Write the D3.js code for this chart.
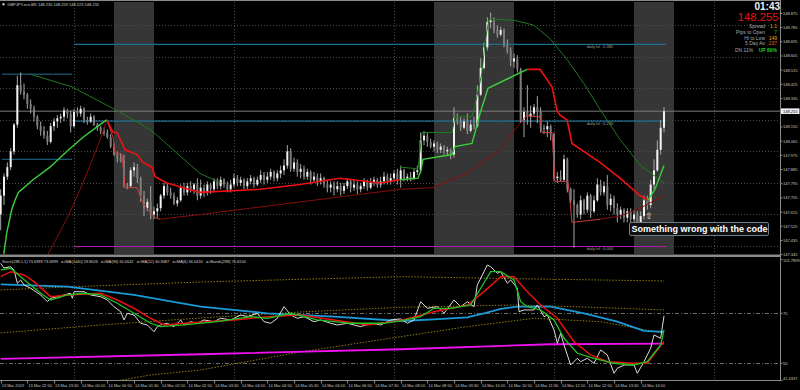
<!DOCTYPE html>
<html>
<head>
<meta charset="utf-8">
<script src="https://cdn.jsdelivr.net/npm/d3@7"></script>
<style>
  body { margin: 0; background: #000; }
  svg { display: block; font-family: "Liberation Sans", Arial, sans-serif; }
</style>
</head>
<body>
<div id="chart"></div>
<script>
// ---- candles (GBPJPY M5, 13 Mar 22:10 .. 14 Mar 14:45) ----
var opens = [
  147.60,147.72,147.84,147.90,148.00,148.17,148.42,148.38,148.36,148.30,
  148.27,148.22,148.16,148.13,148.10,148.06,148.16,148.19,148.21,148.22,
  148.26,148.24,148.16,148.25,148.24,148.27,148.20,148.19,148.22,148.17,
  148.15,148.13,148.12,148.09,148.03,147.98,147.96,147.94,147.79,147.78,
  147.88,147.90,147.83,147.72,147.64,147.68,147.60,147.62,147.64,147.72,
  147.78,147.74,147.72,147.67,147.69,147.77,147.74,147.78,147.76,147.79,
  147.72,147.77,147.74,147.79,147.76,147.81,147.78,147.82,147.79,147.76,
  147.79,147.83,147.80,147.82,147.78,147.81,147.83,147.79,147.82,147.85,
  147.82,147.84,147.87,147.83,147.86,147.88,147.91,148.00,147.89,147.93,
  147.87,147.89,147.84,147.87,147.82,147.84,147.81,147.83,147.79,147.77,
  147.79,147.76,147.78,147.75,147.78,147.81,147.77,147.79,147.76,147.78,
  147.81,147.77,147.80,147.82,147.79,147.81,147.84,147.81,147.83,147.86,
  147.82,147.88,147.83,147.84,147.83,147.87,147.88,148.07,148.10,148.06,
  148.03,148.05,148.01,148.03,148.00,148.01,147.98,148.21,148.19,148.15,
  148.19,148.13,148.17,148.16,148.36,148.53,148.66,148.82,148.83,148.77,
  148.74,148.77,148.68,148.64,148.57,148.59,148.52,148.20,148.25,148.22,
  148.24,148.28,148.25,148.15,148.14,148.16,148.11,147.83,147.84,147.82,
  147.95,147.76,147.69,147.66,147.60,147.69,147.63,147.72,147.62,147.69,
  147.79,147.74,147.78,147.66,147.70,147.64,147.60,147.63,147.58,147.62,
  147.57,147.60,147.55,147.59,147.69,147.66,147.79,147.88,148.01,148.15
];
var highs = [
  147.76,147.86,147.93,148.02,148.18,148.48,148.50,148.43,148.37,148.33,
  148.29,148.23,148.19,148.16,148.13,148.18,148.21,148.23,148.24,148.28,
  148.27,148.26,148.27,148.28,148.29,148.28,148.22,148.24,148.23,148.18,
  148.16,148.15,148.14,148.11,148.05,148.00,147.99,147.98,147.80,147.90,
  147.93,147.92,147.84,147.75,147.70,147.78,147.65,147.67,147.73,147.80,
  147.80,147.77,147.74,147.71,147.79,147.80,147.80,147.81,147.80,147.83,
  147.82,147.79,147.81,147.80,147.83,147.83,147.84,147.83,147.81,147.82,
  147.86,147.85,147.84,147.83,147.83,147.85,147.84,147.84,147.88,147.87,
  147.87,147.89,147.88,147.88,147.91,147.95,148.04,148.02,147.96,147.95,
  147.92,147.91,147.89,147.88,147.87,147.86,147.86,147.84,147.82,147.81,
  147.81,147.81,147.80,147.80,147.83,147.82,147.82,147.81,147.80,147.83,
  147.82,147.83,147.84,147.83,147.84,147.87,147.86,147.86,147.88,147.89,
  147.91,147.89,147.86,147.87,147.89,147.91,148.12,148.13,148.12,148.08,
  148.07,148.06,148.05,148.04,148.03,148.02,148.28,148.24,148.22,148.21,
  148.24,148.20,148.22,148.42,148.59,148.69,148.85,148.88,148.85,148.80,
  148.79,148.78,148.71,148.66,148.62,148.61,148.53,148.28,148.42,148.29,
  148.30,148.35,148.28,148.17,148.19,148.17,148.12,147.87,147.88,147.98,
  147.96,147.77,147.76,147.67,147.72,147.70,147.74,147.73,147.72,147.83,
  147.82,147.81,147.85,147.73,147.72,147.67,147.65,147.64,147.64,147.64,
  147.63,147.62,147.62,147.72,147.72,147.82,147.95,148.07,148.20,148.28
];
var lows = [
  147.50,147.66,147.82,147.88,147.98,148.15,148.36,148.33,148.27,148.24,
  148.19,148.14,148.10,148.08,148.04,148.05,148.13,148.15,148.18,148.19,
  148.21,148.12,148.15,148.22,148.22,148.18,148.17,148.18,148.16,148.13,
  148.11,148.10,148.08,148.02,147.97,147.93,147.93,147.77,147.76,147.77,
  147.84,147.80,147.68,147.59,147.62,147.57,147.57,147.58,147.62,147.70,
  147.72,147.70,147.66,147.65,147.68,147.72,147.72,147.74,147.73,147.69,
  147.70,147.71,147.72,147.73,147.74,147.76,147.76,147.77,147.74,147.74,
  147.77,147.78,147.78,147.76,147.76,147.79,147.77,147.78,147.80,147.79,
  147.80,147.82,147.81,147.81,147.83,147.85,147.89,147.87,147.87,147.84,
  147.83,147.82,147.82,147.79,147.80,147.78,147.79,147.77,147.74,147.74,
  147.72,147.74,147.72,147.73,147.76,147.74,147.75,147.73,147.74,147.76,
  147.75,147.76,147.78,147.77,147.77,147.79,147.79,147.79,147.81,147.79,
  147.77,147.81,147.81,147.81,147.82,147.85,147.86,148.04,148.03,148.02,
  148.00,147.99,147.99,147.98,147.97,147.95,147.96,148.17,148.13,148.14,
  148.11,148.12,148.14,148.15,148.35,148.52,148.64,148.78,148.75,148.72,
  148.73,148.66,148.62,148.54,148.53,148.50,148.18,148.09,148.17,148.15,
  148.22,148.18,148.12,148.11,148.09,148.07,147.81,147.80,147.81,147.81,
  147.74,147.67,147.39,147.58,147.57,147.60,147.61,147.58,147.61,147.68,
  147.72,147.72,147.63,147.62,147.60,147.55,147.57,147.55,147.55,147.53,
  147.53,147.50,147.49,147.57,147.63,147.64,147.76,147.87,147.98,148.12
];
var closes = [
  147.72,147.84,147.90,148.00,148.17,148.42,148.38,148.36,148.30,148.27,
  148.22,148.16,148.13,148.10,148.06,148.16,148.19,148.21,148.22,148.26,
  148.24,148.16,148.25,148.24,148.27,148.20,148.19,148.22,148.17,148.15,
  148.13,148.12,148.09,148.03,147.98,147.96,147.94,147.79,147.78,147.88,
  147.90,147.83,147.72,147.64,147.68,147.60,147.62,147.64,147.72,147.78,
  147.74,147.72,147.67,147.69,147.77,147.74,147.78,147.76,147.79,147.72,
  147.77,147.74,147.79,147.76,147.81,147.78,147.82,147.79,147.76,147.79,
  147.83,147.80,147.82,147.78,147.81,147.83,147.79,147.82,147.85,147.82,
  147.84,147.87,147.83,147.86,147.88,147.91,148.00,147.89,147.93,147.87,
  147.89,147.84,147.87,147.82,147.84,147.81,147.83,147.79,147.77,147.79,
  147.76,147.78,147.75,147.78,147.81,147.77,147.79,147.76,147.78,147.81,
  147.77,147.80,147.82,147.79,147.81,147.84,147.81,147.83,147.86,147.82,
  147.88,147.83,147.84,147.83,147.87,147.88,148.07,148.10,148.06,148.03,
  148.05,148.01,148.03,148.00,148.01,147.98,148.21,148.19,148.15,148.19,
  148.13,148.17,148.16,148.36,148.53,148.66,148.82,148.83,148.77,148.74,
  148.77,148.68,148.64,148.57,148.59,148.52,148.20,148.25,148.22,148.24,
  148.28,148.25,148.15,148.14,148.16,148.11,147.83,147.84,147.82,147.95,
  147.76,147.69,147.66,147.60,147.69,147.63,147.72,147.62,147.69,147.79,
  147.74,147.78,147.66,147.70,147.64,147.60,147.63,147.58,147.62,147.57,
  147.60,147.55,147.59,147.69,147.66,147.79,147.88,148.01,148.15,148.255
];

// ---- price-pane indicator lines: [bar, price] ----
var greenStop = [
  [[0.8,147.33],[1.8,147.48],[3.3,147.63],[4.3,147.69],[5.3,147.74],[9.7,147.82],[14.8,147.90],[19.8,148.00],[24.7,148.09],[29.8,148.17],[31.8,148.20]],
  [[119.8,147.82],[125.2,147.83],[126.1,147.88],[126.7,147.95],[135.4,147.98],[136.3,148.03],[141.4,148.05],[142.3,148.12],[143.8,148.24],[146.2,148.40],[157.9,148.52]],
  [[194.2,147.69],[196.3,147.76],[199,147.91]]
];
var redStop = [
  [[31.8,148.20],[33.7,148.12],[34.9,148.12],[36.4,148.05],[37.3,148.01],[40.9,147.98],[42.7,147.93],[45.4,147.90],[46.3,147.84],[49.9,147.80],[59.8,147.74],[77.8,147.76],[89.8,147.79],[101.8,147.83],[113.8,147.80],[119.8,147.82]],
  [[157.9,148.52],[161.8,148.52],[165.4,148.41],[166.9,148.26],[167.8,148.23],[169.9,148.20],[171.4,148.05],[179.8,147.93],[185.8,147.83],[191.8,147.72],[194.2,147.69]]
];
var maroonLine = [
  [[13.8,147.33],[19.8,147.57],[24.7,147.80],[29.8,148.07],[31.8,148.20]],
  [[47.8,147.57],[60,147.60],[75,147.64],[90,147.68],[105,147.72],[120,147.76],[129.7,147.77],[139.9,147.86],[149.8,148.01],[155.8,148.18]],
  [[179.8,147.57],[185.8,147.59],[191.8,147.64],[199,147.72]]
];
var redHug = [
  [[31.8,148.20],[33.7,148.09],[34.3,147.99],[36.4,147.98],[37.3,147.77],[40.9,147.77],[42.7,147.67],[46.3,147.58],[47.8,147.57]],
  [[155.8,148.18],[157.9,148.23],[159.7,148.22],[161.8,148.22],[162.4,148.12],[165.4,148.12],[166.3,147.81],[170.2,147.81],[171.4,147.55],[179.8,147.57]]
];
var darkGreen = [
  [[8.8,148.49],[21.3,148.41],[34.8,148.26],[44.8,148.14],[59.8,147.86],[66,147.80]],
  [[119.8,147.90],[125.2,147.89],[126.4,148.12],[135.4,148.12],[136.3,148.22],[141.4,148.22],[142.9,148.35],[144.4,148.50],[145.3,148.69],[146.5,148.84],[154.3,148.83],[160,148.80],[165,148.71],[170,148.58],[175,148.43],[180,148.26],[186,148.07],[192,147.91],[199,147.80]]
];

// ---- levels / sessions ----
var dailyLevels = [148.678, 148.192, 147.397];
var dailyLevelNames = ["daily lvl : 0.382", "daily lvl : 0.236", "daily lvl : 0.000"];
var prevLevels = [148.49, 147.95];
var bidPrice = 148.255;
var sessions = [[34, 46], [130, 154], [190, 202]];

// ---- oscillator pane: [bar, value] ----
var stochLine = [[0,100.0],[1,97.65],[3,98.3],[4,96.65],[5,90],[6,91.65],[7,89.15],[9,87.5],[12,84.15],[14,80.8],[15,82.5],[17,83.3],[19,84.15],[21,85],[21.5,82.5],[22,85.8],[25,85.8],[27,84.15],[30,83.3],[32,81.65],[34,78.3],[36,75.8],[37,71.65],[38,75],[40,74.15],[42,70],[44,69.15],[46,65.8],[47,68.3],[48,69.15],[50,70],[52,68.3],[54,71.65],[55,69.15],[57,70.8],[59,70],[61,71.65],[64,70.8],[66,72.5],[69,71.65],[72,74.15],[74,73.3],[77,75],[79,70.8],[81,70],[83,72.5],[85,78.3],[87,74.15],[89,72.5],[91,73.3],[94,70.8],[96,71.65],[99,70],[101,69.15],[104,70],[108,68.3],[111,70],[114,69.15],[117,71.65],[120,72.2],[122,70],[124,71.65],[126,80.8],[128,77.5],[131,78.3],[133,75],[136,81.65],[138,78.3],[140,80.8],[142,78.3],[143,89.15],[146,99.15],[147,98.3],[149,95],[150,95.8],[152,90],[153,91.65],[155,87.5],[155.5,75.8],[157,76.65],[160,76.65],[161,79.15],[163,73.3],[164,74.15],[166,66.65],[167,60],[168,65],[169,59.15],[171,49.15],[173,52.5],[174,50.8],[176,52.5],[178,50],[180,56.65],[182,54.15],[184,45],[185,47.5],[187,49.15],[190,49.15],[191,45],[193,50.8],[195,57.5],[196,64.15],[198,62.5],[199,73.7]];
var ma6 = [[0,96.65],[3,97.5],[6,93.3],[9,89.15],[12,85],[15,81.65],[20,84.15],[25,85],[30,84.15],[35,80],[40,75],[45,70],[48,68.3],[55,69.15],[65,70.8],[75,73.3],[80,72.5],[87,75],[95,71.65],[105,70],[115,70],[120,71.15],[126,73.3],[130,77.5],[135,77.5],[141,79.15],[144,87.5],[147,95.8],[150,95.8],[154,91.65],[156,80.8],[158,78.3],[162,76.65],[166,71.65],[169,62.5],[173,55],[178,52.5],[184,50],[190,49.15],[194,50.8],[198,59.15],[199,66.64]];
var ma12 = [[0,93.3],[3,95.8],[7,94.15],[10,90.8],[15,83.3],[20,84.15],[30,85],[35,81.65],[40,77.5],[45,72.5],[49,69.15],[55,70],[70,71.65],[80,73.3],[90,74.15],[100,71.65],[110,69.15],[120,71.4],[130,75.8],[140,79.15],[145,85.8],[150,93.3],[154,93.3],[158,85.8],[162,79.15],[167,72.5],[172,60.8],[177,54.15],[182,50.8],[190,50],[194,50],[199,60.95]];
var ma96 = [[0,89.5],[20,88.3],[40,84.15],[60,78.3],[80,75],[100,73.3],[120,71.15],[130,72],[140,73],[145,75],[150,77.15],[155,78.3],[165,78.3],[175,75],[185,70.8],[193,66.15],[199,65.66]];
var ma1440 = [[0,52.15],[60,54.5],[120,57],[165,59.5],[199,59.8]];
var bandUpper = [[0,86.65],[20,88.15],[60,90.65],[120,93.3],[160,92.15],[199,91.15]];
var bandMid = [[0,65.15],[30,69.15],[60,72.65],[90,75.65],[120,78],[155,79.15],[175,78.15],[199,76.66]];
var bandLower = [[33,40.65],[45,44.15],[60,46.65],[90,55.65],[120,63.3],[140,68.3],[160,72.5],[180,70.8],[199,65]];

// ---- axes text ----
var priceTicks = [148.875,148.785,148.695,148.605,148.515,148.425,148.335,148.155,148.065,147.975,147.885,147.795,147.705,147.615,147.525,147.435,147.345];
var priceGrid = [148.8,148.6,148.4,148.2,148.0,147.8,147.6,147.4];
var oscTicks = [101.7899, 75, 50, 41.4337];
var oscTickText = ["101.7899", "75", "50", "41.4337"];
var oscGrid = [75, 50];
var gridBars = [22, 70, 118, 166, 214];
var timeBars = [0,8,16,24,32,40,48,56,64,72,80,88,96,104,112,120,128,136,144,152,160,168,176,184,192];
var timeLabels = ["13 Mar 2019","13 Mar 22:50","13 Mar 23:30","14 Mar 00:10","14 Mar 00:50","14 Mar 01:30","14 Mar 02:10","14 Mar 02:50","14 Mar 03:30","14 Mar 04:10","14 Mar 04:50","14 Mar 05:30","14 Mar 06:10","14 Mar 06:50","14 Mar 07:30","14 Mar 08:10","14 Mar 08:50","14 Mar 09:30","14 Mar 10:10","14 Mar 10:50","14 Mar 11:30","14 Mar 12:10","14 Mar 12:50","14 Mar 13:30","14 Mar 14:10"];

var infoLabels = ["Spread", "Pips to Open", "Hi to Low", "5 Day Av"];
var infoValues = ["1.1", "7", "149", "237"];
var infoColors = ["#e89a10", "#20c020", "#f0a020", "#e86010"];

var drawChart = function() {
  var W = 800, H = 390, axisX = 780;
  var mainTop = 2, mainBot = 254, subTop = 258, subBot = 380;

  var svg = d3.select("#chart").append("svg")
    .attr("width", W).attr("height", H)
    .style("background", "#000");

  var x = d3.scaleLinear().domain([0, 234]).range([0.67, 780.67]);
  var y = d3.scaleLinear().domain([147.345, 148.875]).range([254.7, 13.4]);
  var yo = d3.scaleLinear().domain([41.4337, 101.7899]).range([380.4, 259.7]);

  var defs = svg.append("defs");
  defs.append("clipPath").attr("id", "clipMain").append("rect")
    .attr("x", 0).attr("y", mainTop).attr("width", axisX).attr("height", mainBot - mainTop);
  defs.append("clipPath").attr("id", "clipSub").append("rect")
    .attr("x", 0).attr("y", subTop).attr("width", axisX).attr("height", subBot - subTop);

  var main = svg.append("g").attr("clip-path", "url(#clipMain)");
  var sub = svg.append("g").attr("clip-path", "url(#clipSub)");

  // session boxes
  main.selectAll("rect.session").data(sessions).enter().append("rect")
    .attr("x", function(d){ return x(d[0]); })
    .attr("width", function(d){ return x(d[1]) - x(d[0]); })
    .attr("y", mainTop).attr("height", mainBot - mainTop)
    .attr("fill", "#363636");

  // grid
  main.selectAll("line.hg").data(priceGrid).enter().append("line")
    .attr("x1", 0).attr("x2", axisX)
    .attr("y1", function(d){ return Math.round(y(d)) + 0.5; })
    .attr("y2", function(d){ return Math.round(y(d)) + 0.5; })
    .attr("stroke", "#4a4a4a").attr("stroke-dasharray", "1,2");
  [main, sub].forEach(function(g, k) {
    g.selectAll("line.vg").data(gridBars).enter().append("line")
      .attr("x1", function(d){ return Math.round(x(d)) + 0.5; })
      .attr("x2", function(d){ return Math.round(x(d)) + 0.5; })
      .attr("y1", k ? subTop : mainTop).attr("y2", k ? subBot : mainBot)
      .attr("stroke", "#4a4a4a").attr("stroke-dasharray", "1,2");
  });
  sub.selectAll("line.og").data(oscGrid).enter().append("line")
    .attr("x1", 0).attr("x2", axisX)
    .attr("y1", function(d){ return Math.round(yo(d)) + 0.5; })
    .attr("y2", function(d){ return Math.round(yo(d)) + 0.5; })
    .attr("stroke", "#6a6a6a").attr("stroke-dasharray", "4,2,1,2");

  // daily levels
  main.selectAll("line.prev").data(prevLevels).enter().append("line")
    .attr("x1", x(0.4)).attr("x2", x(21.4))
    .attr("y1", function(d){ return y(d); }).attr("y2", function(d){ return y(d); })
    .attr("stroke", "#1f6f93").attr("stroke-width", 1);
  main.selectAll("line.lvl").data(dailyLevels).enter().append("line")
    .attr("x1", x(22)).attr("x2", x(199.6))
    .attr("y1", function(d){ return y(d); }).attr("y2", function(d){ return y(d); })
    .attr("stroke", function(d, i){ return i === 2 ? "#b01cb0" : "#1f6f93"; })
    .attr("stroke-width", 1.2);
  main.selectAll("text.lvl").data(dailyLevels).enter().append("text")
    .attr("x", x(175.8)).attr("y", function(d){ return y(d) + 4; })
    .attr("fill", "#a0a0a0").attr("font-size", 4)
    .text(function(d, i){ return dailyLevelNames[i]; });

  // bid line
  main.append("line")
    .attr("x1", 0).attr("x2", axisX)
    .attr("y1", y(bidPrice)).attr("y2", y(bidPrice))
    .attr("stroke", "#7a7a7a").attr("stroke-width", 1);

  // candles
  var bars = d3.range(closes.length);
  var cg = main.append("g");
  cg.selectAll("line.wick").data(bars).enter().append("line")
    .attr("x1", function(i){ return x(i); }).attr("x2", function(i){ return x(i); })
    .attr("y1", function(i){ return y(highs[i]); })
    .attr("y2", function(i){ return y(lows[i]); })
    .attr("stroke", "#a6a6a6").attr("stroke-width", 1);
  cg.selectAll("rect.body").data(bars).enter().append("rect")
    .attr("x", function(i){ return x(i) - 1; })
    .attr("width", 2)
    .attr("y", function(i){ return y(Math.max(opens[i], closes[i])); })
    .attr("height", function(i){ return Math.max(1, Math.abs(y(opens[i]) - y(closes[i]))); })
    .attr("fill", function(i){ return closes[i] >= opens[i] ? "#f2f2f2" : "#7c7c7c"; });

  // indicator lines
  var pline = d3.line().x(function(d){ return x(d[0]); }).y(function(d){ return y(d[1]); });
  function drawSegs(segs, color, w) {
    main.append("g").selectAll("path").data(segs).enter().append("path")
      .attr("d", pline).attr("fill", "none")
      .attr("stroke", color).attr("stroke-width", w);
  }
  drawSegs(maroonLine, "#8a0c0c", 1);
  drawSegs(darkGreen, "#1d7a1d", 1);
  drawSegs(redHug, "#d23a3a", 1);
  drawSegs(redStop, "#f01010", 1.6);
  drawSegs(greenStop, "#3ccf3c", 1.4);

  // oscillator pane
  var oline = d3.line().x(function(d){ return x(d[0]); }).y(function(d){ return yo(d[1]); });
  [bandUpper, bandMid, bandLower].forEach(function(b) {
    sub.append("path").datum(b).attr("d", oline).attr("fill", "none")
      .attr("stroke", "#8c7a10").attr("stroke-width", 1).attr("stroke-dasharray", "1.5,1.5");
  });
  sub.append("path").datum(ma1440).attr("d", oline).attr("fill", "none")
    .attr("stroke", "#f010f0").attr("stroke-width", 1.8);
  sub.append("path").datum(ma96).attr("d", oline).attr("fill", "none")
    .attr("stroke", "#1a9ad6").attr("stroke-width", 1.8);
  sub.append("path").datum(stochLine).attr("d", oline).attr("fill", "none")
    .attr("stroke", "#dcdcdc").attr("stroke-width", 1);
  sub.append("path").datum(ma12).attr("d", oline).attr("fill", "none")
    .attr("stroke", "#e81010").attr("stroke-width", 1.5);
  sub.append("path").datum(ma6).attr("d", oline).attr("fill", "none")
    .attr("stroke", "#22c422").attr("stroke-width", 1.3);

  // frame
  svg.append("rect").attr("x", 0).attr("y", 0).attr("width", axisX).attr("height", 1).attr("fill", "#8a8a8a");
  svg.append("rect").attr("x", 0).attr("y", 254.5).attr("width", axisX).attr("height", 2.5).attr("fill", "#8a8a8a");
  svg.append("line").attr("x1", 0).attr("x2", axisX + 0.5).attr("y1", 380.5).attr("y2", 380.5).attr("stroke", "#8a8a8a");
  svg.append("line").attr("x1", axisX + 0.5).attr("x2", axisX + 0.5).attr("y1", 0).attr("y2", 381).attr("stroke", "#8a8a8a");

  // price axis
  var pa = svg.append("g").attr("font-size", 4).attr("fill", "#c8c8c8");
  pa.selectAll("line").data(priceTicks).enter().append("line")
    .attr("x1", axisX).attr("x2", axisX + 2.5)
    .attr("y1", function(d){ return y(d); }).attr("y2", function(d){ return y(d); })
    .attr("stroke", "#8a8a8a");
  pa.selectAll("text").data(priceTicks).enter().append("text")
    .attr("x", axisX + 3).attr("y", function(d){ return y(d) + 1.5; })
    .text(function(d){ return d.toFixed(3); });
  svg.append("rect").attr("x", axisX + 1).attr("y", y(bidPrice) - 2.8)
    .attr("width", 18.5).attr("height", 5.6).attr("fill", "#f0f0f0");
  svg.append("text").attr("x", axisX + 3).attr("y", y(bidPrice) + 1.5)
    .attr("font-size", 4).attr("fill", "#000").text(bidPrice.toFixed(3));

  // oscillator axis
  var oa = svg.append("g").attr("font-size", 4).attr("fill", "#c8c8c8");
  oa.selectAll("line").data(oscTicks).enter().append("line")
    .attr("x1", axisX).attr("x2", axisX + 2.5)
    .attr("y1", function(d){ return yo(d); }).attr("y2", function(d){ return yo(d); })
    .attr("stroke", "#8a8a8a");
  oa.selectAll("text").data(oscTicks).enter().append("text")
    .attr("x", axisX + 3)
    .attr("y", function(d, i){ return i === 0 ? yo(d) + 2.5 : (i === 3 ? yo(d) - 0.5 : yo(d) + 1.5); })
    .text(function(d, i){ return oscTickText[i]; });

  // time axis
  var ta = svg.append("g").attr("font-size", 4).attr("fill", "#c8c8c8");
  ta.selectAll("line").data(timeBars).enter().append("line")
    .attr("x1", function(d){ return Math.round(x(d)) + 0.5; })
    .attr("x2", function(d){ return Math.round(x(d)) + 0.5; })
    .attr("y1", 381).attr("y2", 383.5).attr("stroke", "#8a8a8a");
  ta.selectAll("text").data(timeBars).enter().append("text")
    .attr("x", function(d){ return x(d) + 1; }).attr("y", 386.5)
    .text(function(d, i){ return timeLabels[i]; });

  // titles
  svg.append("rect").attr("x", 2.5).attr("y", 3.3).attr("width", 2).attr("height", 2).attr("fill", "#e0e0e0");
  svg.append("text").attr("x", 7.3).attr("y", 6.2).attr("font-size", 4).attr("fill", "#d0d0d0")
    .text("GBPJPY.ecn,M5  148.235 148.259 148.223 148.255");
  svg.append("text").attr("x", 2).attr("y", 263).attr("font-size", 3.9).attr("fill", "#d0d0d0")
    .attr("xml:space", "preserve")
    .text("Stoch(288,1,1) 73.6999 73.6999   =>MA(1440) 59.8026   =>MA(96) 65.6642   =>MA(12) 60.9487   =>MA(6) 66.6416   =>Bands(288) 76.6554");

  // info panel
  svg.append("text").attr("x", 780).attr("y", 10).attr("text-anchor", "end")
    .attr("font-size", 10).attr("font-weight", "bold").attr("fill", "#f0f0f0").text("01:43");
  svg.append("text").attr("x", 778.5).attr("y", 21).attr("text-anchor", "end")
    .attr("font-size", 11.3).attr("fill", "#ee1010").text(bidPrice.toFixed(3));
  var rows = [27.5, 33.5, 39.5, 45.2];
  infoLabels.forEach(function(t, i) {
    svg.append("text").attr("x", 765).attr("y", rows[i]).attr("text-anchor", "end")
      .attr("font-size", 5).attr("fill", "#a8a8a8").text(t);
    svg.append("text").attr("x", 777).attr("y", rows[i]).attr("text-anchor", "end")
      .attr("font-size", 5).attr("fill", infoColors[i]).text(infoValues[i]);
  });
  svg.append("text").attr("x", 735).attr("y", 52.3).attr("font-size", 5).attr("fill", "#a8a8a8").text("DN 11%");
  svg.append("text").attr("x", 777).attr("y", 52.3).attr("text-anchor", "end")
    .attr("font-size", 5).attr("font-weight", "bold").attr("fill", "#20d020").text("UP 89%");

  // annotation
  svg.append("text").attr("x", x(194.5)).attr("y", 218.5).attr("text-anchor", "middle")
    .attr("font-family", "DejaVu Sans").attr("font-size", 9).attr("fill", "#e8e8e8").text("\u21e7");
  svg.append("rect").attr("x", 629.5).attr("y", 222.5).attr("width", 139).attr("height", 13)
    .attr("rx", 1.5).attr("fill", "#101010").attr("stroke", "#6c7c88").attr("stroke-width", 1);
  svg.append("text").attr("x", 631.5).attr("y", 232.3)
    .attr("font-size", 9).attr("font-weight", "bold").attr("fill", "#ffffff")
    .text("Something wrong with the code");
};

drawChart();
</script>
</body>
</html>
